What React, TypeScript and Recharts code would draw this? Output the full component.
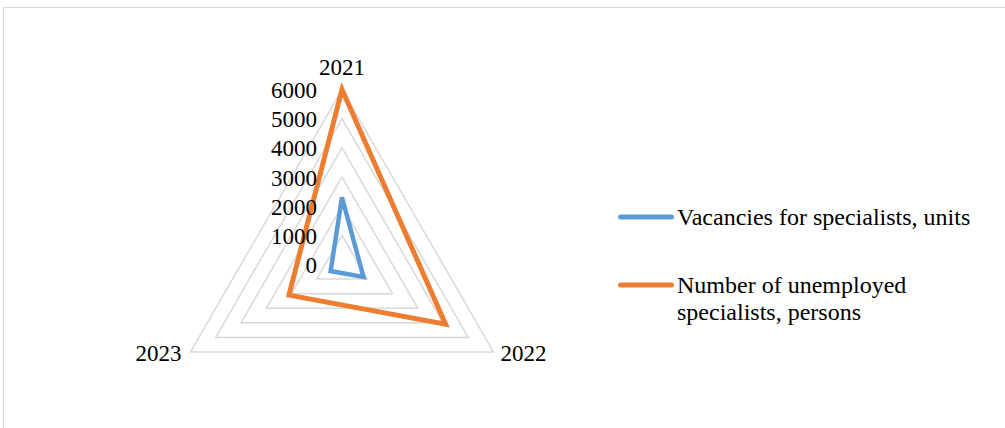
import React from 'react';
import { RadarChart, Radar, PolarGrid, PolarAngleAxis, PolarRadiusAxis, Legend } from 'recharts';

// Years on the angle axis
const years = ['2021', '2022', '2023'];
// Vacancies for specialists, units
const vacancies = [2300, 850, 450];
// Number of unemployed specialists, persons
const unemployed = [6000, 4100, 2100];
// Radius axis ticks
const radiusTicks = [0, 1000, 2000, 3000, 4000, 5000, 6000];

const seriesKeys = ['vacancies', 'unemployed'];
const seriesNames = ['Vacancies for specialists, units', 'Number of unemployed specialists, persons'];
const seriesColors = ['#5B9BD5', '#ED7D31'];

const data = years.map((year, i) => ({
  year,
  vacancies: vacancies[i],
  unemployed: unemployed[i],
}));

const FONT = '"Liberation Serif", "Times New Roman", serif';
const FONT_SIZE = 23;

const RadiusTick = (props: any) => {
  const { x, y, payload } = props;
  return (
    <text x={x - 25} y={y + 1} textAnchor="end" dominantBaseline="central" fontFamily={FONT} fontSize={FONT_SIZE} fill="#000">
      {payload.value}
    </text>
  );
};

const AngleTick = (props: any) => {
  const { x, y, payload, textAnchor } = props;
  let dx = 0;
  let dy = -3;
  if (textAnchor === 'middle') dy = -14;
  else if (textAnchor === 'end') dx = -2;
  return (
    <text x={x + dx} y={y + dy} textAnchor={textAnchor} dominantBaseline="central" fontFamily={FONT} fontSize={FONT_SIZE} fill="#000">
      {payload.value}
    </text>
  );
};

// Legend entries listed in series order
const LegendContent = () => (
  <div style={{ fontFamily: FONT, fontSize: 24, lineHeight: '26.5px', color: '#000' }}>
    {seriesNames.map((name, i) => (
      <div key={name} style={{ display: 'flex', alignItems: 'flex-start', marginBottom: i === 0 ? 42 : 0 }}>
        <svg width={56} height={26} style={{ flex: '0 0 auto' }}>
          <line x1={2.5} y1={13} x2={53.5} y2={13} stroke={seriesColors[i]} strokeWidth={5} strokeLinecap="round" />
        </svg>
        <span style={{ marginLeft: 3, width: 305, whiteSpace: 'normal' }}>{name}</span>
      </div>
    ))}
  </div>
);

export default function App() {
  return (
    <div style={{ position: 'absolute', left: 0, top: 0, width: 1005, height: 428, overflow: 'hidden', background: '#fff' }}>
      <div style={{ position: 'absolute', left: 3, top: 7, width: 1100, height: 500, borderLeft: '1.5px solid #d9d9d9', borderTop: '1.5px solid #d9d9d9' }} />
      <div style={{ position: 'absolute', left: 0, top: 0 }}>
        <RadarChart width={1005} height={428} data={data} cx={342} cy={264.5} outerRadius={175} margin={{ top: 0, right: 0, bottom: 0, left: 0 }}>
          <PolarGrid gridType="polygon" radialLines={false} stroke="#d9d9d9" strokeWidth={1.5} />
          <PolarAngleAxis dataKey="year" axisLine={false} tickLine={false} tick={<AngleTick />} />
          <PolarRadiusAxis angle={90} domain={[0, 6000]} ticks={radiusTicks as any} tickCount={7} axisLine={false} tickLine={false} tick={<RadiusTick />} />
          {seriesKeys.map((key, i) => (
            <Radar
              key={key}
              name={seriesNames[i]}
              dataKey={key}
              stroke={seriesColors[i]}
              strokeWidth={i === 0 ? 4.5 : 5}
              fill="none"
              fillOpacity={0}
              isAnimationActive={false}
              dot={false}
            />
          ))}
          <Legend
            content={<LegendContent />}
            wrapperStyle={{ position: 'absolute', left: 618, top: 203.5, width: 370, bottom: 'auto', right: 'auto' }}
          />
        </RadarChart>
      </div>
    </div>
  );
}
